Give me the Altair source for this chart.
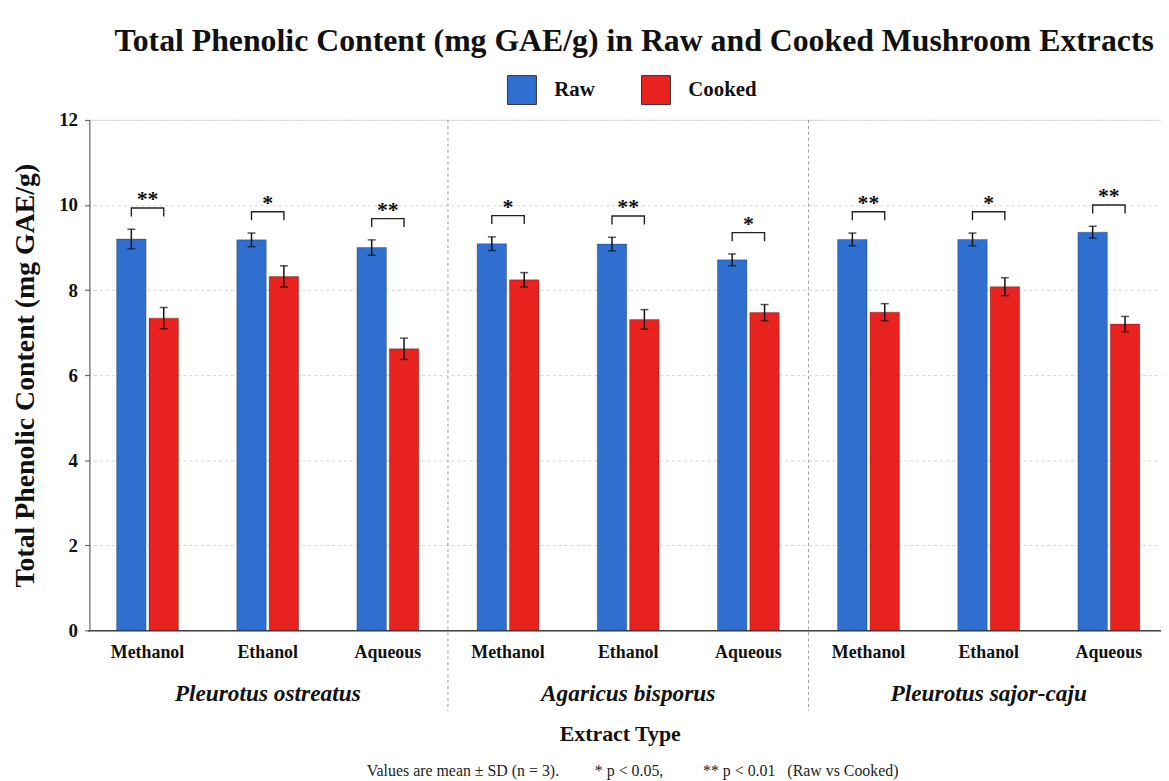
import altair as alt
import pandas as pd

species = ["Pleurotus ostreatus", "Agaricus bisporus", "Pleurotus sajor-caju"]
extracts = ["Methanol", "Ethanol", "Aqueous"]
series_names = ["Raw", "Cooked"]
raw_mean = [9.20, 9.18, 9.00, 9.09, 9.08, 8.71, 9.19, 9.19, 9.36]
raw_sd = [0.23, 0.16, 0.18, 0.16, 0.16, 0.14, 0.15, 0.15, 0.14]
cooked_mean = [7.34, 8.32, 6.62, 8.24, 7.31, 7.47, 7.48, 8.08, 7.20]
cooked_sd = [0.25, 0.25, 0.25, 0.17, 0.23, 0.19, 0.20, 0.21, 0.18]
signif = ["**", "*", "**", "*", "**", "*", "**", "*", "**"]
y_ticks = [0, 2, 4, 6, 8, 10, 12]
title_text = "Total Phenolic Content (mg GAE/g) in Raw and Cooked Mushroom Extracts"
NB = "\u00a0"
footnote = ("Values are mean \u00b1 SD (n = 3)." + NB * 9 + "* p < 0.05," + NB * 10
            + "** p < 0.01" + NB * 3 + "(Raw vs Cooked)")

SERIF = "Liberation Serif"
BLUE = "#2f6fd0"
RED = "#e8231f"

rows, keys, brk, stars = [], [], [], []
for i, sp in enumerate(species):
    for j, ex in enumerate(extracts):
        k = i * 3 + j
        key = f"{sp}|{ex}"
        keys.append(key)
        vals = [(raw_mean[k], raw_sd[k]), (cooked_mean[k], cooked_sd[k])]
        for s, (m, sd) in zip(series_names, vals):
            rows.append(dict(key=key, species=sp, extract=ex, series=s,
                             mean=m, lo=m - sd, hi=m + sd))
        top = max(m + sd for m, sd in vals) + 0.5
        for o, (s, yy) in enumerate([("Raw", top - 0.2), ("Raw", top),
                                     ("Cooked", top), ("Cooked", top - 0.2)]):
            brk.append(dict(key=key, series=s, by=yy, ord=o))
        stars.append(dict(key=key, sy=top, label=signif[k]))

df = pd.DataFrame(rows)
bdf = pd.DataFrame(brk)
sdf = pd.DataFrame(stars)
sep_df = pd.DataFrame({"key": [keys[2], keys[5]]})
grp_df = pd.DataFrame({"key": [keys[1], keys[4], keys[7]], "label": species})
foot_df = pd.DataFrame({"label": [footnote]})

X_RANGE = [-2, 1087]
x_axis = alt.Axis(labelExpr="split(datum.label, '|')[1]", labelAngle=0,
                  labelFont=SERIF, labelFontSize=18, labelFontWeight="bold",
                  labelColor="#111", labelPadding=13, ticks=False,
                  domainColor="#444", domainWidth=1.5,
                  title="Extract Type", titleFont=SERIF, titleFontSize=22,
                  titleFontWeight="bold", titleColor="#111", titlePadding=63,
                  titleX=534)
x_scale = alt.Scale(paddingInner=0, paddingOuter=0, range=X_RANGE)
x_enc = alt.X("key:N", sort=keys, scale=x_scale, axis=x_axis)
y_axis = alt.Axis(values=y_ticks, labelFont=SERIF, labelFontSize=19,
                  labelFontWeight="bold", labelColor="#111", labelPadding=7,
                  tickSize=5, tickColor="#555", domainColor="#555",
                  grid=True, gridDash=[3, 3], gridColor="#d4d4d4",
                  title="Total Phenolic Content (mg GAE/g)", titleFont=SERIF,
                  titleFontSize=28, titleFontWeight="bold", titleColor="#111",
                  titlePadding=19)
y_scale = alt.Scale(domain=[0, 12], nice=False)
xoff = alt.XOffset("series:N", sort=series_names,
                   scale=alt.Scale(domain=series_names, paddingInner=0.09, paddingOuter=0.9))

bars = alt.Chart(df).mark_bar(stroke="#000", strokeOpacity=0.25, strokeWidth=1).encode(
    x=x_enc,
    xOffset=xoff,
    y=alt.Y("mean:Q", scale=y_scale, axis=y_axis),
    color=alt.Color("series:N", sort=series_names,
                    scale=alt.Scale(domain=series_names, range=[BLUE, RED]),
                    legend=alt.Legend(orient="none", legendX=420, legendY=-46,
                                      direction="horizontal", title=None,
                                      symbolType="square", symbolSize=850,
                                      symbolStrokeColor="#333", symbolStrokeWidth=1,
                                      labelFont=SERIF, labelFontSize=21,
                                      labelFontWeight="bold", labelColor="#111",
                                      labelOffset=17, columnPadding=44)),
)
err = alt.Chart(df).mark_rule(color="#111", strokeWidth=1.5).encode(
    x=x_enc, xOffset=xoff, y=alt.Y("lo:Q", scale=y_scale, axis=y_axis), y2="hi:Q")
cap_hi = alt.Chart(df).mark_tick(color="#111", thickness=1.5, size=8).encode(
    x=x_enc, xOffset=xoff, y=alt.Y("hi:Q", scale=y_scale, axis=y_axis))
cap_lo = alt.Chart(df).mark_tick(color="#111", thickness=1.5, size=8).encode(
    x=x_enc, xOffset=xoff, y=alt.Y("lo:Q", scale=y_scale, axis=y_axis))
brackets = alt.Chart(bdf).mark_line(color="#222", strokeWidth=1.4).encode(
    x=x_enc, xOffset=xoff, y=alt.Y("by:Q", scale=y_scale, axis=y_axis),
    detail="key:N", order="ord:Q")
star_txt = alt.Chart(sdf).mark_text(font=SERIF, fontSize=22, fontWeight="bold",
                                    baseline="bottom", dy=3, color="#111").encode(
    x=x_enc, y=alt.Y("sy:Q", scale=y_scale, axis=y_axis), text="label:N")
seps = alt.Chart(sep_df).mark_rule(color="#999", strokeDash=[3, 3], strokeWidth=1).encode(
    x=alt.X("key:N", sort=keys, bandPosition=1, scale=x_scale, axis=x_axis),
    y=alt.value(0), y2=alt.value(595))
grp = alt.Chart(grp_df).mark_text(font=SERIF, fontSize=23.5, fontWeight="bold",
                                  fontStyle="italic", color="#111").encode(
    x=x_enc, y=alt.value(578), text="label:N")
foot = alt.Chart(foot_df).mark_text(font=SERIF, fontSize=16, color="#222").encode(
    x=alt.value(547), y=alt.value(656), text="label:N")

chart = alt.layer(seps, bars, err, cap_hi, cap_lo, brackets, star_txt, grp, foot).properties(
    width=1079, height=514,
    title=alt.TitleParams(title_text, font=SERIF, fontSize=32, fontWeight="bold",
                          anchor="middle", dx=9, offset=16, color="#111"),
    autosize=alt.AutoSizeParams(type="none"),
    padding={"left": 82, "top": 110, "right": 0, "bottom": 149},
).configure_view(stroke=None).configure(background="white")

chart.save("out.html", embed_options={"renderer": "svg", "actions": False})
